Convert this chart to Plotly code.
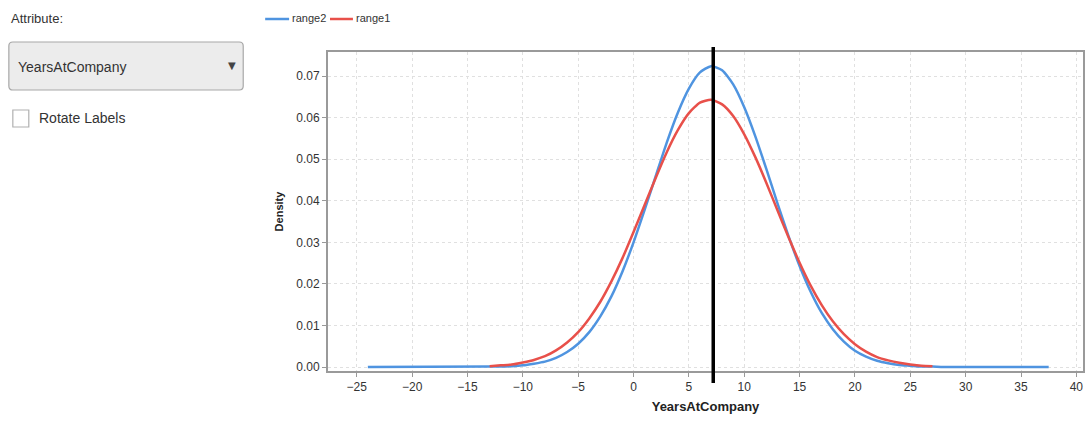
import plotly.graph_objects as go

# Density estimates of YearsAtCompany for two ranges
x_range2 = [-24, -13, -12, -11, -10, -9, -8, -7, -6, -5, -4, -3, -2, -1, 0, 1, 2, 3, 4, 5, 6,
            7, 8, 9, 10, 11, 12, 13, 14, 15, 16, 17, 18, 19, 20, 21, 22, 23, 24, 25,
            26, 27, 28, 37.5]
y_range2 = [0.0000, 0.0001, 0.0001, 0.0002, 0.0004, 0.0008, 0.0013, 0.0022, 0.0036, 0.0056,
            0.0084, 0.0122, 0.0170, 0.0230, 0.0300, 0.0378, 0.0459, 0.0540, 0.0612, 0.0670,
            0.0709, 0.0724, 0.0714, 0.0680, 0.0625, 0.0555, 0.0476, 0.0394, 0.0315, 0.0243,
            0.0181, 0.0130, 0.0091, 0.0061, 0.0039, 0.0025, 0.0015, 0.0009, 0.0005, 0.0003,
            0.0001, 0.0001, 0.0000, 0.0000]

x_range1 = [-13, -12, -11, -10, -9, -8, -7, -6, -5, -4, -3, -2, -1, 0, 1, 2, 3, 4, 5, 6,
            7, 8, 9, 10, 11, 12, 13, 14, 15, 16, 17, 18, 19, 20, 21, 22, 23, 24, 25,
            26, 27]
y_range1 = [0.0002, 0.0004, 0.0006, 0.0011, 0.0017, 0.0026, 0.0040, 0.0059, 0.0084, 0.0117,
            0.0157, 0.0206, 0.0262, 0.0325, 0.0390, 0.0455, 0.0517, 0.0570, 0.0611, 0.0636,
            0.0643, 0.0632, 0.0604, 0.0560, 0.0505, 0.0443, 0.0377, 0.0312, 0.0251, 0.0196,
            0.0149, 0.0110, 0.0079, 0.0055, 0.0037, 0.0024, 0.0016, 0.0010, 0.0006, 0.0003,
            0.0002]

marker_x = 7.2
x_ticks = list(range(-25, 45, 5))
y_ticks = [0.00, 0.01, 0.02, 0.03, 0.04, 0.05, 0.06, 0.07]

BLUE = "#4f94e0"
RED = "#e8504a"

W, H = 1089, 427
L, R, T, B = 328, 4, 52, 56
PW, PH = W - L - R, H - T - B


def px(x):
    return (x - L) / PW


def py(y):
    return (H - B - y) / PH


FONT = "Liberation Sans, Arial, sans-serif"

fig = go.Figure()
fig.add_trace(go.Scatter(x=x_range2, y=y_range2, mode="lines", name="range2",
                         line=dict(color=BLUE, width=2.5, shape="spline", smoothing=0.6)))
fig.add_trace(go.Scatter(x=x_range1, y=y_range1, mode="lines", name="range1",
                         line=dict(color=RED, width=2.5, shape="spline", smoothing=0.6)))


def rounded_rect(x0, y0, x1, y1, r):
    # pixel-space rounded rectangle converted to paper coordinates
    pts = []
    cmds = [
        ("M", x0 + r, y0), ("L", x1 - r, y0), ("Q", x1, y0, x1, y0 + r),
        ("L", x1, y1 - r), ("Q", x1, y1, x1 - r, y1), ("L", x0 + r, y1),
        ("Q", x0, y1, x0, y1 - r), ("L", x0, y0 + r), ("Q", x0, y0, x0 + r, y0),
    ]
    for c in cmds:
        if c[0] == "Q":
            pts.append(f"Q {px(c[1])},{py(c[2])} {px(c[3])},{py(c[4])}")
        else:
            pts.append(f"{c[0]} {px(c[1])},{py(c[2])}")
    return " ".join(pts) + " Z"


shapes = [
    # vertical marker
    dict(type="line", xref="x", yref="paper", x0=marker_x, x1=marker_x,
         y0=py(383), y1=py(47), line=dict(color="black", width=3.5)),
    # dropdown box
    dict(type="path", xref="paper", yref="paper", path=rounded_rect(8, 42, 243, 90, 4),
         fillcolor="#ececec", line=dict(color="#a8a8a8", width=1.2)),
    # checkbox
    dict(type="rect", xref="paper", yref="paper", x0=px(12), x1=px(28), y0=py(127), y1=py(110),
         fillcolor="white", line=dict(color="#b0b0b0", width=1.2)),
    # legend swatches
    dict(type="line", xref="paper", yref="paper", x0=px(265), x1=px(289), y0=py(19), y1=py(19),
         line=dict(color=BLUE, width=2.5)),
    dict(type="line", xref="paper", yref="paper", x0=px(330), x1=px(353), y0=py(19), y1=py(19),
         line=dict(color=RED, width=2.5)),
]

annotations = [
    dict(text="Attribute:", x=px(8), y=py(18), xref="paper", yref="paper",
         xanchor="left", yanchor="middle", showarrow=False,
         font=dict(family=FONT, size=13, color="#333333")),
    dict(text="YearsAtCompany", x=px(15), y=py(67), xref="paper", yref="paper",
         xanchor="left", yanchor="middle", showarrow=False,
         font=dict(family=FONT, size=14, color="#333333")),
    dict(text="▼", x=px(232), y=py(65), xref="paper", yref="paper",
         xanchor="center", yanchor="middle", showarrow=False,
         font=dict(family="DejaVu Sans", size=10, color="#444444")),
    dict(text="Rotate Labels", x=px(36), y=py(118), xref="paper", yref="paper",
         xanchor="left", yanchor="middle", showarrow=False,
         font=dict(family=FONT, size=14, color="#333333")),
    dict(text="range2", x=px(290), y=py(18), xref="paper", yref="paper",
         xanchor="left", yanchor="middle", showarrow=False,
         font=dict(family=FONT, size=11, color="#333333")),
    dict(text="range1", x=px(354), y=py(18), xref="paper", yref="paper",
         xanchor="left", yanchor="middle", showarrow=False,
         font=dict(family=FONT, size=11, color="#333333")),
]

fig.update_layout(
    width=W, height=H,
    margin=dict(l=L, r=R, t=T, b=B),
    paper_bgcolor="white", plot_bgcolor="white",
    font=dict(family=FONT, size=12, color="#333333"),
    showlegend=False,
    shapes=shapes,
    annotations=annotations,
    xaxis=dict(range=[-27.6, 40.6], tickvals=x_ticks, ticks="outside", ticklen=4,
               tickcolor="#999999", showgrid=True, gridcolor="#e0e0e0", griddash="dot",
               showline=True, linecolor="#9a9a9a", linewidth=2, mirror=True,
               zeroline=False, tickfont=dict(size=12, color="#333333"),
               title=dict(text="<b>YearsAtCompany</b>", standoff=8,
                          font=dict(size=13, color="#222222"))),
    yaxis=dict(range=[-0.00096, 0.0758], tickvals=y_ticks, tickformat=".2f",
               ticks="outside", ticklen=4, tickcolor="#999999",
               showgrid=True, gridcolor="#e0e0e0", griddash="dot",
               showline=True, linecolor="#9a9a9a", linewidth=2, mirror=True,
               zeroline=False, tickfont=dict(size=12, color="#333333"),
               title=dict(text="<b>Density</b>", standoff=10,
                          font=dict(size=11, color="#222222"))),
)

fig.write_html("out.html")
